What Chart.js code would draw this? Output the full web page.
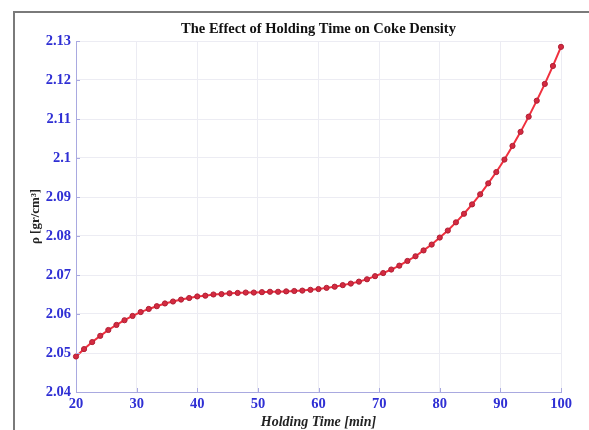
<!DOCTYPE html>
<html>
<head>
<meta charset="utf-8">
<script src="https://cdn.jsdelivr.net/npm/chart.js@4/dist/chart.umd.min.js"></script>
<style>
  html, body { margin: 0; padding: 0; background: #ffffff; overflow: hidden; }
  #wrap { position: relative; width: 589px; height: 430px; }
  #frame { position: absolute; left: 13px; top: 11px; width: 700px; height: 600px;
           border: 2px solid #7a7a7a; box-sizing: border-box; }
  #c { position: absolute; left: 0; top: 0; }
</style>
</head>
<body>
<div id="wrap">
  <div id="frame"></div>
  <canvas id="c" width="589" height="430"></canvas>
</div>
<script>
// Holding time [min] of each measurement
const holdingTime = [
  20, 21.33, 22.67, 24, 25.33, 26.67, 28, 29.33, 30.67, 32,
  33.33, 34.67, 36, 37.33, 38.67, 40, 41.33, 42.67, 44, 45.33,
  46.67, 48, 49.33, 50.67, 52, 53.33, 54.67, 56, 57.33, 58.67,
  60, 61.33, 62.67, 64, 65.33, 66.67, 68, 69.33, 70.67, 72,
  73.33, 74.67, 76, 77.33, 78.67, 80, 81.33, 82.67, 84, 85.33,
  86.67, 88, 89.33, 90.67, 92, 93.33, 94.67, 96, 97.33, 98.67, 100
];

// Coke density rho [gr/cm^3]
const density = [
  2.0491, 2.0510, 2.0528, 2.0544, 2.0559, 2.0572, 2.0584, 2.0595, 2.0605, 2.0613,
  2.0620, 2.0627, 2.0632, 2.0637, 2.0641, 2.0645, 2.0647, 2.0650, 2.0651, 2.0653,
  2.0654, 2.0655, 2.0655, 2.0656, 2.0657, 2.0657, 2.0658, 2.0659, 2.0660, 2.0662,
  2.0664, 2.0667, 2.0670, 2.0674, 2.0678, 2.0683, 2.0689, 2.0697, 2.0705, 2.0714,
  2.0724, 2.0736, 2.0748, 2.0763, 2.0778, 2.0796, 2.0814, 2.0835, 2.0857, 2.0881,
  2.0907, 2.0935, 2.0964, 2.0996, 2.1031, 2.1067, 2.1106, 2.1147, 2.1190, 2.1236,
  2.1285
];

// Axis ticks
const xTicks = [20, 30, 40, 50, 60, 70, 80, 90, 100];
const yTicks = [2.04, 2.05, 2.06, 2.07, 2.08, 2.09, 2.1, 2.11, 2.12, 2.13];

const points = holdingTime.map((t, i) => ({ x: t, y: density[i] }));

const tickBlue = '#2f2fd4';
const axisColor = '#a9a9e0';
const gridColor = '#ececf3';
const serif = '"Liberation Serif", "Times New Roman", serif';

// Short inward tick marks along the left and bottom axes
const innerTicks = {
  id: 'innerTicks',
  afterDatasetsDraw(chart) {
    const { ctx, chartArea, scales } = chart;
    ctx.save();
    ctx.strokeStyle = axisColor;
    ctx.lineWidth = 1;
    ctx.beginPath();
    xTicks.forEach(v => {
      const px = Math.round(scales.x.getPixelForValue(v)) + 0.5;
      ctx.moveTo(px, chartArea.bottom);
      ctx.lineTo(px, chartArea.bottom - 4);
    });
    yTicks.forEach(v => {
      const py = Math.round(scales.y.getPixelForValue(v)) + 0.5;
      ctx.moveTo(chartArea.left, py);
      ctx.lineTo(chartArea.left + 4, py);
    });
    ctx.stroke();
    ctx.restore();
  }
};

new Chart(document.getElementById('c'), {
  type: 'line',
  data: {
    datasets: [{
      data: points,
      borderColor: '#f0303e',
      borderWidth: 2,
      backgroundColor: '#d42a40',
      pointBackgroundColor: '#d42a40',
      pointBorderColor: '#b02035',
      pointBorderWidth: 1,
      pointRadius: 2.6,
      tension: 0,
      clip: false
    }]
  },
  options: {
    responsive: false,
    animation: false,
    devicePixelRatio: 1,
    layout: { padding: { left: 0, right: 28, top: 0, bottom: 0 } },
    plugins: {
      legend: { display: false },
      tooltip: { enabled: false },
      title: {
        display: true,
        fullSize: false,
        text: 'The Effect of Holding Time on Coke Density',
        color: '#111111',
        font: { family: serif, size: 14.5, weight: 'bold', lineHeight: 1.2 },
        padding: { top: 21, bottom: 2.6 }
      }
    },
    scales: {
      x: {
        type: 'linear',
        min: 20, max: 100,
        afterBuildTicks(scale) { scale.ticks = xTicks.map(v => ({ value: v })); },
        afterFit(scale) { scale.height = 38; },
        grid: { color: gridColor, drawTicks: false },
        border: { color: axisColor, width: 1 },
        ticks: {
          color: tickBlue,
          padding: 4,
          maxRotation: 0,
          font: { family: serif, size: 14.5, weight: 'bold' }
        },
        title: {
          display: true,
          text: 'Holding Time [min]',
          color: '#222222',
          font: { family: serif, size: 14, weight: 'bold', style: 'italic', lineHeight: 1.1 },
          padding: { top: 0, bottom: 0 }
        }
      },
      y: {
        type: 'linear',
        min: 2.04, max: 2.13,
        afterBuildTicks(scale) { scale.ticks = yTicks.map(v => ({ value: v })); },
        afterFit(scale) { scale.width = 76; },
        grid: { color: gridColor, drawTicks: false },
        border: { color: axisColor, width: 1 },
        ticks: {
          color: tickBlue,
          padding: 5,
          font: { family: serif, size: 14.5, weight: 'bold' },
          callback: v => String(Number(v.toFixed(2)))
        },
        title: {
          display: true,
          text: 'ρ [gr/cm³]',
          color: '#222222',
          font: { family: serif, size: 13, weight: 'bold', lineHeight: 1.2 },
          padding: { top: 28, bottom: 0 }
        }
      }
    }
  },
  plugins: [innerTicks]
});
</script>
</body>
</html>
